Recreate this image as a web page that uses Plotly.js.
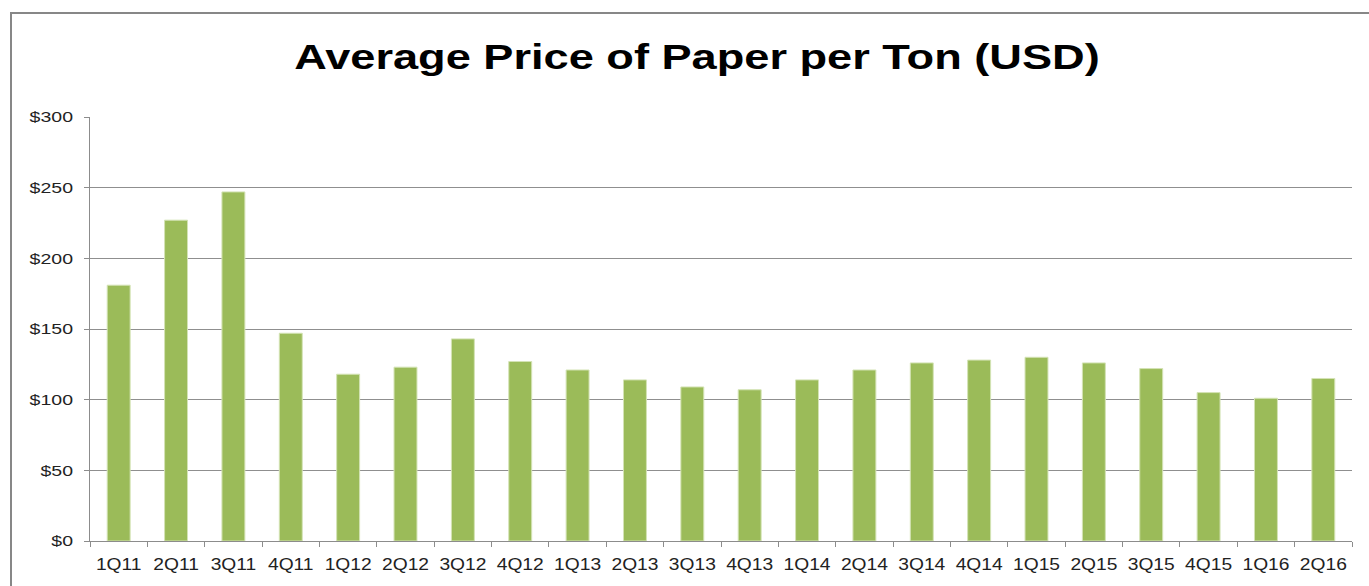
<!DOCTYPE html>
<html>
<head>
<meta charset="utf-8">
<script src="https://cdn.plot.ly/plotly-3.0.1.min.js"></script>
<style>
html,body{margin:0;padding:0;background:#fff;overflow:hidden;}
#chart{width:1369px;height:586px;}
</style>
</head>
<body>
<div id="chart"></div>
<script>
const quarters = ["1Q11","2Q11","3Q11","4Q11","1Q12","2Q12","3Q12","4Q12","1Q13","2Q13","3Q13","4Q13","1Q14","2Q14","3Q14","4Q14","1Q15","2Q15","3Q15","4Q15","1Q16","2Q16"];
const pricePerTon = [181, 227, 247, 147, 118, 123, 143, 127, 121, 114, 109, 107, 114, 121, 126, 128, 130, 126, 122, 105, 101, 115];
const yTickValues = [0, 50, 100, 150, 200, 250, 300];
const yTickLabels = ["$0", "$50", "$100", "$150", "$200", "$250", "$300"];
const chartTitle = "Average Price of Paper per Ton (USD)";

const W = 1369, H = 586;
const L = 90, R = 17, T = 117, B = 45;
const pw = W - L - R, ph = H - T - B;
const px = v => (v - L) / pw;
const py = v => (H - B - v) / ph;

const trace = {
  type: 'bar',
  x: quarters,
  y: pricePerTon,
  marker: {color: '#9BBB59', line: {color: '#d4e3b5', width: 1}},
  hoverinfo: 'x+y'
};

const layout = {
  width: W, height: H,
  margin: {l: L, r: R, t: T, b: B, pad: 0},
  paper_bgcolor: '#ffffff',
  plot_bgcolor: '#ffffff',
  showlegend: false,
  bargap: 0.6,
  title: {
    text: chartTitle,
    font: {family: 'Liberation Sans, Arial, sans-serif', size: 35, color: '#000', weight: 'bold'},
    x: px(697), xanchor: 'center', xref: 'paper',
    y: 1 - 57/H, yanchor: 'middle', yref: 'container'
  },
  xaxis: {
    type: 'category',
    showline: true, linecolor: '#8c8c8c', linewidth: 1,
    ticks: 'outside', tickson: 'boundaries', ticklen: 5, tickcolor: '#8c8c8c', tickwidth: 1,
    showgrid: false, zeroline: false,
    tickfont: {family: 'Liberation Sans, Arial, sans-serif', size: 16, color: '#222'},
    ticklabelstandoff: 9
  },
  yaxis: {
    range: [0, 300],
    tickmode: 'array',
    tickvals: yTickValues,
    ticktext: yTickLabels,
    showline: true, linecolor: '#8c8c8c', linewidth: 1,
    ticks: 'outside', ticklen: 5, tickcolor: '#8c8c8c', tickwidth: 1,
    showgrid: true, gridcolor: '#8f8f8f', gridwidth: 1,
    zeroline: false,
    tickfont: {family: 'Liberation Sans, Arial, sans-serif', size: 15, color: '#222'},
    ticklabelstandoff: 8
  },
  shapes: [{
    type: 'rect', xref: 'paper', yref: 'paper', layer: 'below',
    x0: px(11), x1: px(1400), y0: py(620), y1: py(13),
    line: {color: '#878787', width: 2}, fillcolor: 'rgba(0,0,0,0)'
  }]
};

function stretchText(sel, f) {
  document.querySelectorAll(sel).forEach(el => {
    const len = el.getComputedTextLength();
    if (len > 0) {
      el.setAttribute('textLength', (len * f).toFixed(2));
      el.setAttribute('lengthAdjust', 'spacingAndGlyphs');
    }
  });
}

Plotly.newPlot('chart', [trace], layout, {displayModeBar: false, staticPlot: true}).then(() => {
  stretchText('.gtitle', 1.29);
  stretchText('.xtick text', 1.2);
  stretchText('.ytick text', 1.3);
});
</script>
</body>
</html>
